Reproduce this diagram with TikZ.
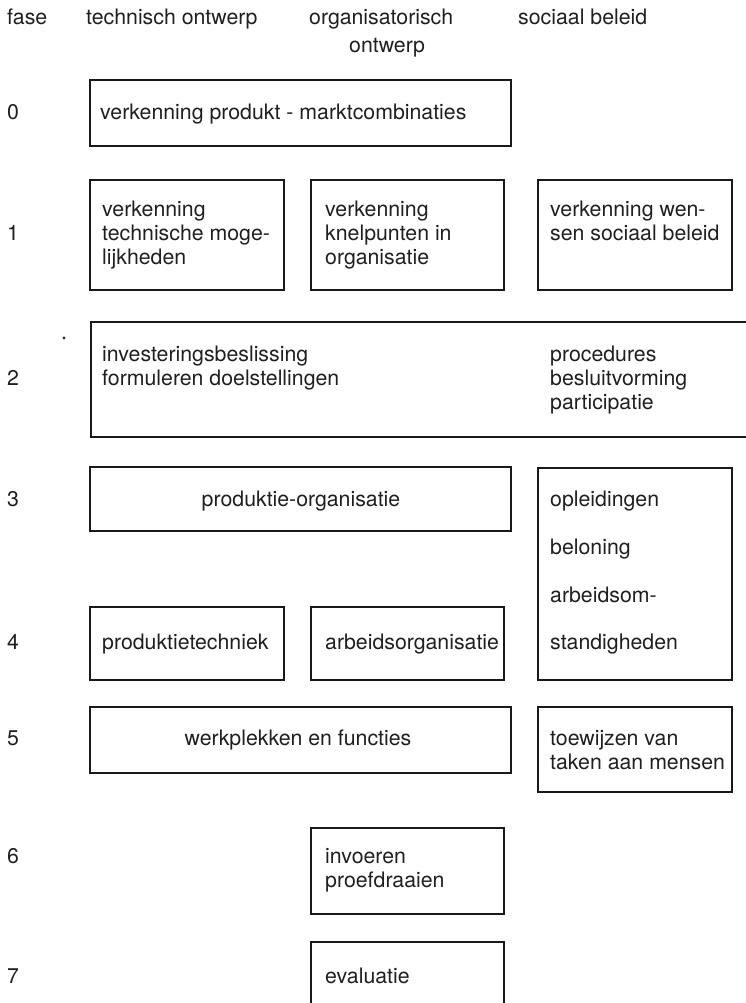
\documentclass[tikz,border=0pt]{standalone}
\usepackage{fontspec}
\setmainfont{TeX Gyre Heros}
% stacked left-aligned lines whose baseline is that of the first line
\newcommand\lns[1]{\vtop{\halign{##\hfil\cr#1\crcr}}}
\begin{document}
\begin{tikzpicture}[x=1pt,y=-1pt,
  box/.style={draw=black!90, line width=2.8pt, rectangle, inner sep=0pt},
  txt/.style={font=\fontsize{21.3}{24}\selectfont, text=black!88, inner sep=0pt, anchor=base west},
  ctxt/.style={txt, anchor=base}]
\useasboundingbox (0,0) rectangle (745,1003);

% column headings
\node[txt] (hfase) at (7,25) {fase};
\node[txt] (htech) at (86,25) {technisch ontwerp};
\node[txt] (horg1) at (309,25) {organisatorisch};
\node[txt] (horg2) at (349,53) {ontwerp};
\node[txt] (hsoc)  at (518,25) {sociaal beleid};

% phase numbers
\node[txt] (f0) at (7,120) {0};
\node[txt] (f1) at (7,240) {1};
\node[txt] (f2) at (7,385) {2};
\node[txt] (f3) at (7,506) {3};
\node[txt] (f4) at (7,649) {4};
\node[txt] (f5) at (7,745) {5};
\node[txt] (f6) at (7,863) {6};
\node[txt] (f7) at (7,983) {7};

% phase 0
\node[box, minimum width=421pt, minimum height=66pt] (b0) at (300.5,113) {};
\node[txt] (t0) at (100,120) {verkenning produkt - marktcombinaties};

% phase 1
\node[box, minimum width=194pt, minimum height=110pt] (b1a) at (187,235) {};
\node[box, minimum width=193pt, minimum height=110pt] (b1b) at (407.5,235) {};
\node[box, minimum width=194pt, minimum height=110pt] (b1c) at (635,235) {};
\node[txt] (t1a) at (102,216) {\lns{verkenning\cr technische moge-\cr lijkheden}};
\node[txt] (t1b) at (325,216) {\lns{verkenning\cr knelpunten in\cr organisatie}};
\node[txt] (t1c) at (550,216) {\lns{verkenning wen-\cr sen sociaal beleid}};

% phase 2 (box runs on past the right margin)
\node[box, minimum width=679pt, minimum height=115pt] (b2) at (430.5,379.5) {};
\node[txt] (t2a) at (102,361) {\lns{investeringsbeslissing\cr formuleren doelstellingen}};
\node[txt] (t2b) at (550,361) {\lns{procedures\cr besluitvorming\cr participatie}};
\fill[black!80] (64,338) circle (1.6);

% phase 3
\node[box, minimum width=421pt, minimum height=64pt] (b3) at (300.5,499) {};
\node[ctxt] (t3) at (301,506) {produktie-organisatie};

% social policy, phases 3 and 4
\node[box, minimum width=194pt, minimum height=212pt] (b34s) at (635,574) {};
\node[txt] (t34a) at (550,506) {opleidingen};
\node[txt] (t34b) at (550,554) {beloning};
\node[txt] (t34c) at (550,602) {arbeidsom-};
\node[txt] (t34d) at (550,649) {standigheden};

% phase 4
\node[box, minimum width=194pt, minimum height=73pt] (b4a) at (187,643.5) {};
\node[box, minimum width=193pt, minimum height=73pt] (b4b) at (407.5,643.5) {};
\node[txt] (t4a) at (102,649) {produktietechniek};
\node[txt] (t4b) at (325,649) {arbeidsorganisatie};

% phase 5
\node[box, minimum width=421pt, minimum height=66pt] (b5) at (300.5,740) {};
\node[ctxt] (t5) at (298,745) {werkplekken en functies};
\node[box, minimum width=194pt, minimum height=85pt] (b5s) at (635,749.5) {};
\node[txt] (t5s) at (550,745) {\lns{toewijzen van\cr taken aan mensen}};

% phase 6
\node[box, minimum width=193pt, minimum height=86pt] (b6) at (407.5,871) {};
\node[txt] (t6) at (325,863) {\lns{invoeren\cr proefdraaien}};

% phase 7 (box runs on past the lower margin)
\node[box, minimum width=193pt, minimum height=88pt] (b7) at (407.5,986) {};
\node[txt] (t7) at (325,983) {evaluatie};
\end{tikzpicture}
\end{document}
